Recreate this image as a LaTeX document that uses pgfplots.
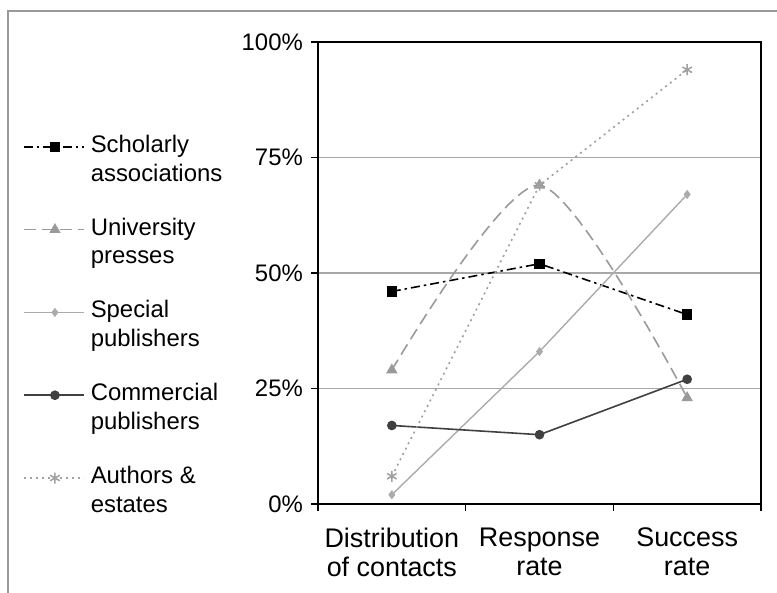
\documentclass[border=0pt]{standalone}
\usepackage{pgfplots}
\pgfplotsset{compat=1.18}
\usepackage{fontspec}
\setmainfont{Liberation Sans}
\definecolor{ucol}{HTML}{9A9A9A}
\definecolor{spcol}{HTML}{ABABAB}
\definecolor{ccol}{HTML}{404040}
\definecolor{acol}{HTML}{A0A0A0}
\definecolor{gridc}{HTML}{A8A8A8}
\definecolor{framec}{HTML}{999999}
\begin{document}
\fontsize{24}{29}\selectfont
\begin{tikzpicture}
\useasboundingbox (0bp,0bp) rectangle (777bp,593bp);
\draw[framec, line width=1.5bp] (8bp,0bp) -- (8bp,582bp) -- (777bp,582bp);
\begin{axis}[
  at={(318bp,89bp)}, anchor=south west,
  scale only axis, width=443bp, height=462bp,
  xmin=-0.5, xmax=2.5, ymin=0, ymax=100,
  xtick={0,1,2},
  xticklabels={{Distribution\\of contacts},{Response\\rate},{Success\\rate}},
  x tick label style={align=center, font=\fontsize{27}{29}\selectfont, yshift=-9bp},
  y tick label style={font=\fontsize{24}{29}\selectfont},
  /pgf/number format/assume math mode=true,
  major x tick style={draw=none},
  minor xtick={-0.5,0.5,1.5,2.5},
  ytick={0,25,50,75,100},
  yticklabel={\pgfmathprintnumber{\tick}\%},
  ymajorgrids, grid style={gridc, line width=1.3bp},
  tick align=outside, tick pos=left,
  major tick length=7bp, minor tick length=7bp,
  tick style={black, line width=1.3bp},
  axis line style={black, line width=1.5bp},
  legend style={at={(-0.666,0.8035)}, anchor=north west, draw=none, fill=none,
    font=\fontsize{24}{29}\selectfont, row sep=29bp, column sep=4bp,
    cells={align=left, anchor=west}, inner sep=0pt},
  legend image code/.code={\draw[mark repeat=2,mark phase=2,#1] plot coordinates {(0bp,13bp) (31bp,13bp) (60bp,13bp)};},
]
\addplot[black, line width=1.6bp, dash pattern=on 9bp off 4bp on 2.5bp off 4bp,
  mark=square*, mark size=4.3bp, mark options={solid}]
  coordinates {(0,46) (1,52) (2,41)};
\addlegendentry{Scholarly\\associations}
\addplot[ucol, line width=1.6bp, dash pattern=on 12bp off 6bp, smooth, tension=0.45,
  mark=triangle*, mark size=5bp, mark options={solid}]
  coordinates {(0,29) (1,69) (2,23)};
\addlegendentry{University\\presses}
\addplot[spcol, line width=1.4bp, mark=diamond*, mark size=3.5bp]
  coordinates {(0,2) (1,33) (2,67)};
\addlegendentry{Special\\publishers}
\addplot[ccol, line width=1.6bp, mark=*, mark size=4bp]
  coordinates {(0,17) (1,15) (2,27)};
\addlegendentry{Commercial\\publishers}
\addplot[acol, line width=1.6bp, dash pattern=on 2bp off 4bp,
  mark=asterisk, mark size=5.5bp, mark options={solid, line width=1.5bp}]
  coordinates {(0,6) (1,69) (2,94)};
\addlegendentry{Authors \&\\estates}
\end{axis}
\end{tikzpicture}
\end{document}
